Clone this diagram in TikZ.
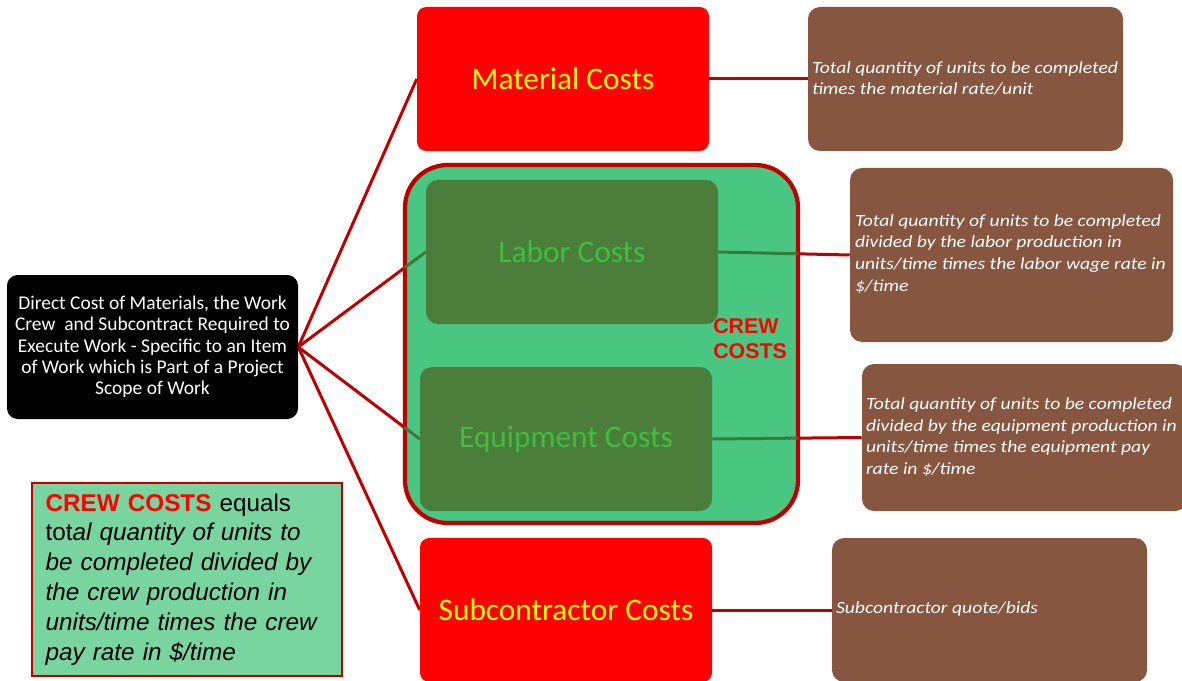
\documentclass[tikz,border=0pt]{standalone}
\usepackage{fontspec}
\setmainfont{Carlito}
\newfontfamily\arialf{Liberation Sans}
\newfontfamily\wideit[FakeStretch=1.15]{Carlito}
\definecolor{boxred}{HTML}{FF0000}
\definecolor{ylw}{HTML}{FFFF00}
\definecolor{dred}{HTML}{C00000}
\definecolor{crewg}{HTML}{48C682}
\definecolor{innerg}{HTML}{4A7E3A}
\definecolor{innertxt}{HTML}{3EC03E}
\definecolor{brownb}{HTML}{875641}
\definecolor{formg}{HTML}{79D5A0}
\definecolor{lineg}{HTML}{3A7A3A}
\pgfdeclarelayer{bg}
\pgfsetlayers{bg,main}
\tikzset{
  rootbox/.style={fill=black, rounded corners=8pt, minimum width=218.25pt, minimum height=108pt, text=white, align=center, font=\fontsize{14.6}{16}\selectfont, inner sep=0pt},
  costbox/.style={fill=boxred, rounded corners=7pt, minimum width=219pt, minimum height=108pt, text=ylw, font=\fontsize{23.5}{28}\selectfont, inner sep=0pt},
  innerbox/.style={fill=innerg, rounded corners=9pt, minimum width=219pt, minimum height=108pt, text=innertxt, font=\fontsize{23.5}{28}\selectfont, inner sep=0pt},
  crewbox/.style={fill=crewg, draw=dred, line width=3.2pt, rounded corners=32pt, minimum width=294.75pt, minimum height=268.5pt, inner sep=0pt},
  descbox/.style={fill=brownb, rounded corners=9pt, inner sep=0pt},
  desctext/.style={anchor=west, text=white, align=left, inner sep=0pt, font=\wideit\itshape\fontsize{12.8}{16.2}\selectfont},
  redline/.style={draw=dred, line width=2.25pt},
  greenline/.style={draw=lineg, line width=2.25pt},
}
\begin{document}
\begin{tikzpicture}[x=0.75pt,y=-0.75pt]
\useasboundingbox (0,0) rectangle (1182,681);
\begin{pgfonlayer}{bg}
\fill[white] (0,0) rectangle (1182,681);
\end{pgfonlayer}
\node[rootbox] (root) at (152.5,347) {Direct Cost of Materials, the Work\\Crew\ \ and Subcontract Required to\\Execute Work - Specific to an Item\\of Work which is Part of a Project\\Scope of Work};
\node[costbox] (mat) at (563,79) {Material Costs};
\node[crewbox] (crew) at (601.5,344) {};
\node[innerbox] (labor) at (572,252) {Labor Costs};
\node[innerbox] (equip) at (566,439) {Equipment Costs};
\node[costbox] (sub) at (566,610) {Subcontractor Costs};
\node[anchor=north west, align=left, text=boxred, inner sep=0pt, font=\arialf\bfseries\fontsize{16}{19}\selectfont] (crewlbl) at (713,318) {CREW\\COSTS};
\node[descbox, minimum width=236.25pt, minimum height=108pt] (dmat) at (965.5,79) {};
\node[desctext] (tmat) at ([xshift=3pt,yshift=0.5pt]dmat.west) {Total quantity of units to be completed\\times the material rate/unit};
\node[descbox, minimum width=242.25pt, minimum height=130.5pt] (dlab) at (1011.5,255) {};
\node[desctext] (tlab) at ([xshift=3.75pt,yshift=1pt]dlab.west) {Total quantity of units to be completed\\divided by the labor production in\\units/time times the labor wage rate in\\\$/time};
\node[descbox, minimum width=243.75pt, minimum height=110.25pt] (deq) at (1024.5,437.5) {};
\node[desctext] (teq) at ([xshift=3pt,yshift=0.5pt]deq.west) {Total quantity of units to be completed\\divided by the equipment production in\\units/time times the equipment pay\\rate in \$/time};
\node[descbox, minimum width=236.25pt, minimum height=108pt] (dsub) at (989.5,610) {};
\node[desctext] (tsub) at ([xshift=3pt,yshift=0.5pt]dsub.west) {Subcontractor quote/bids};
\node[draw=dred, line width=1.5pt, fill=formg, minimum width=231pt, minimum height=144.75pt, text width=212pt, inner xsep=10.3pt, inner ysep=0pt, align=left, font=\arialf\fontsize{18.2}{22.4}\selectfont] (form) at (187,579.5) {{\bfseries\color{boxred}CREW COSTS} equals\\tot\textit{al quantity of units to}\\\textit{be completed divided by}\\\textit{the crew production in}\\\textit{units/time times the crew}\\\textit{pay rate in \$/time}};
\begin{pgfonlayer}{bg}
\draw[redline] (root.east) -- (mat.west);
\draw[redline] (root.east) -- (labor.west);
\draw[redline] (root.east) -- (equip.west);
\draw[redline] (root.east) -- (sub.west);
\draw[redline] (mat.east) -- (dmat.west);
\draw[redline] (labor.east) -- (dlab.west);
\draw[redline] (equip.east) -- (deq.west);
\draw[redline] (sub.east) -- (dsub.west);
\end{pgfonlayer}
\coordinate (c1) at (intersection of root.east--labor.west and crew.west--crew.north west);
\coordinate (c2) at (intersection of root.east--equip.west and crew.west--crew.north west);
\coordinate (c3) at (intersection of labor.east--dlab.west and crew.east--crew.north east);
\coordinate (c4) at (intersection of equip.east--deq.west and crew.east--crew.north east);
\draw[greenline, shorten <=1.6pt] (c1) -- (labor.west);
\draw[greenline, shorten <=1.6pt] (c2) -- (equip.west);
\draw[greenline, shorten >=1.6pt] (labor.east) -- (c3);
\draw[greenline, shorten >=1.6pt] (equip.east) -- (c4);
\end{tikzpicture}
\end{document}
